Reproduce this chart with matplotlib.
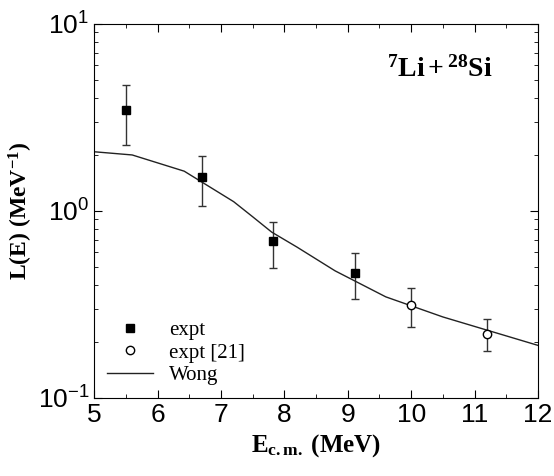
import matplotlib
matplotlib.use('Agg')
import matplotlib.pyplot as plt
from matplotlib.lines import Line2D
from matplotlib.ticker import MultipleLocator, LogLocator, NullFormatter

# expt (this work)
e_x = [5.5, 6.7, 7.82, 9.12]
e_y = [3.48, 1.51, 0.689, 0.468]
e_hi = [4.68, 1.96, 0.877, 0.599]
e_lo = [2.25, 1.06, 0.498, 0.338]

# expt [21]
r_x = [10.0, 11.2]
r_y = [0.313, 0.221]
r_hi = [0.389, 0.263]
r_lo = [0.239, 0.179]

# Wong curve
w_x = [5.0, 5.6, 6.42, 7.2, 7.5, 7.8, 8.2, 8.8, 9.6, 10.5, 12.0]
w_y = [2.07, 1.99, 1.63, 1.12, 0.93, 0.77, 0.64, 0.478, 0.347, 0.271, 0.191]

plt.rcParams['mathtext.fontset'] = 'custom'
plt.rcParams['mathtext.bf'] = 'Liberation Serif:bold'
plt.rcParams['mathtext.rm'] = 'Liberation Serif'
plt.rcParams['mathtext.it'] = 'Liberation Serif:italic'

fig = plt.figure(figsize=(5.54, 4.76), dpi=100)
ax = fig.add_axes([0.170, 0.164, 0.801, 0.786])

ax.errorbar(e_x, e_y, yerr=[[y - l for y, l in zip(e_y, e_lo)], [h - y for y, h in zip(e_y, e_hi)]],
            fmt='s', color='black', ms=6, ecolor='#333333', elinewidth=1, capsize=3)
ax.errorbar(r_x, r_y, yerr=[[y - l for y, l in zip(r_y, r_lo)], [h - y for y, h in zip(r_y, r_hi)]],
            fmt='o', mfc='white', mec='black', color='black', ms=6, ecolor='#333333',
            elinewidth=1, capsize=3)
ax.plot(w_x, w_y, color='#222222', lw=1)

ax.set_yscale('log')
ax.set_xlim(5, 12)
ax.set_ylim(0.1, 10)
ax.xaxis.set_major_locator(MultipleLocator(1))
ax.xaxis.set_minor_locator(MultipleLocator(0.5))
ax.yaxis.set_minor_locator(LogLocator(subs=range(2, 10)))
ax.yaxis.set_minor_formatter(NullFormatter())
ax.tick_params(which='both', direction='in', top=True, right=True)
ax.tick_params(which='major', length=6, labelsize=19)
ax.tick_params(which='minor', length=3)
for lab in ax.get_xticklabels() + ax.get_yticklabels():
    lab.set_family('Liberation Sans')

ax.set_xlabel(r'$\mathbf{E_{c.m.}}$ (MeV)', family='Liberation Serif', fontweight='bold', fontsize=18)
ax.set_ylabel(r'L(E) (MeV$^{\mathbf{-1}}$)', family='Liberation Serif', fontweight='bold', fontsize=17,
              labelpad=2)

ax.text(0.66, 0.86, r'$\mathbf{^{7}Li+^{28}Si}$', transform=ax.transAxes, fontsize=20)

handles = [Line2D([], [], ls='none', marker='s', color='black', ms=6),
           Line2D([], [], ls='none', marker='o', mfc='white', mec='black', ms=6),
           Line2D([], [], color='#222222', lw=1)]
ax.legend(handles, ['expt', 'expt [21]', 'Wong'], loc='lower left', frameon=False,
          prop={'family': 'Liberation Serif', 'size': 15},
          handlelength=2.2, borderaxespad=0.2, labelspacing=0.15)

fig.savefig('out.png', dpi=100)
